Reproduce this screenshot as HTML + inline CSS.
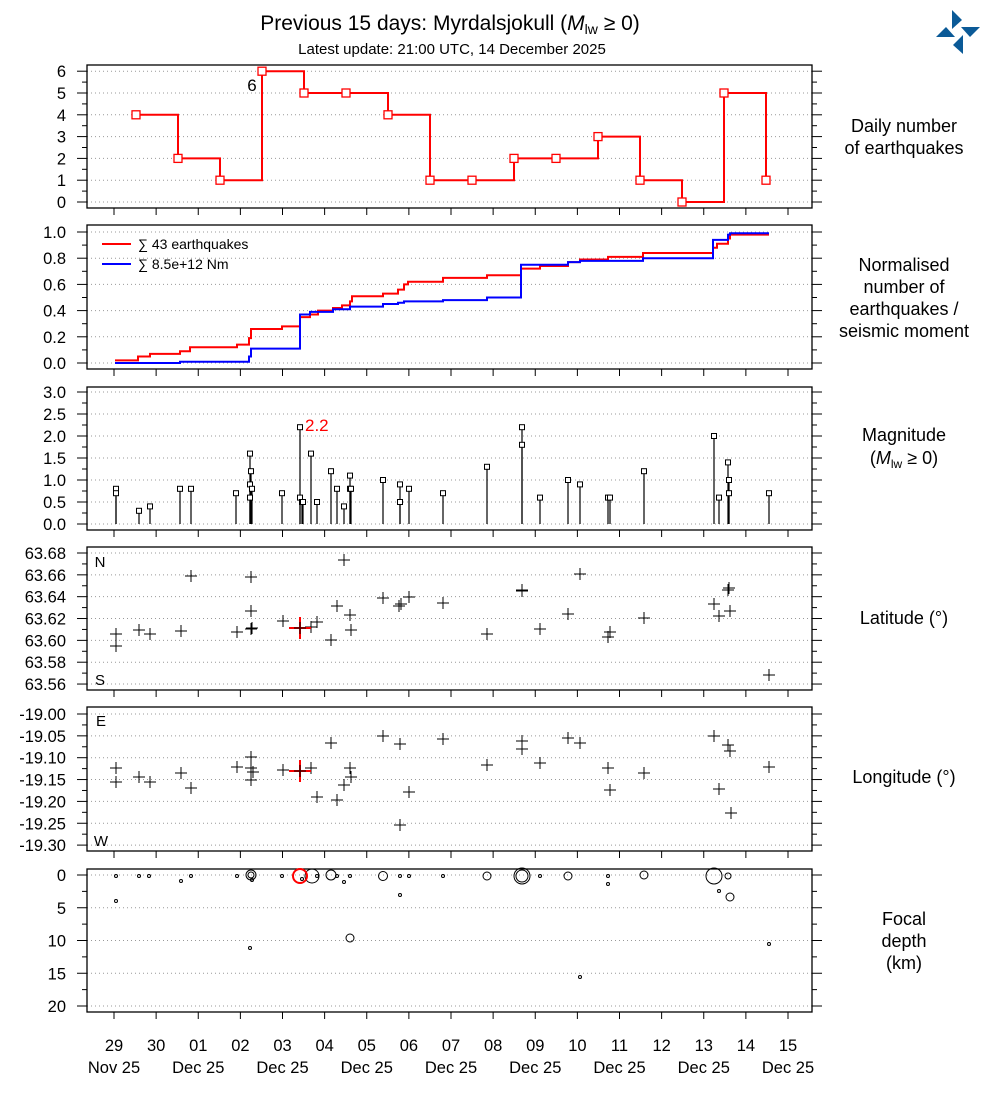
<!DOCTYPE html>
<html><head><meta charset="utf-8"><style>
body{margin:0;background:#fff;width:990px;height:1100px;overflow:hidden}
svg{display:block;font-family:"Liberation Sans",sans-serif}
</style></head><body>
<svg id="s" width="990" height="1100" xmlns="http://www.w3.org/2000/svg"></svg>
<script>
const S=document.getElementById('s');let h='';
const L=87,R=812;
function ln(x1,y1,x2,y2,st){h+=`<line x1="${x1}" y1="${y1}" x2="${x2}" y2="${y2}" ${st||'stroke="#000" stroke-width="1"'}/>`}
function tx(x,y,t,sz,anc,col){h+=`<text x="${x}" y="${y}" font-size="${sz||14}" text-anchor="${anc||'middle'}" fill="${col||'#000'}">${t}</text>`}
const days=[];for(let i=0;i<17;i++)days.push(114+42.125*i);
function panel(top,bot,vals,ymap,labels,minor){
  vals.forEach((v,i)=>{const y=ymap(v);ln(L,y,R,y,'stroke="#999" stroke-width="1" stroke-dasharray="1,3"');ln(L-10,y,L,y);ln(R,y,R+10,y);tx(L-21,y+6,labels[i],16.5,'end');});
  minor.forEach(v=>{const y=ymap(v);ln(L-5,y,L,y);ln(R,y,R+5,y)});
  days.forEach(x=>ln(x,bot,x,bot+7));
  h+=`<rect x="${L}" y="${top}" width="${R-L}" height="${bot-top}" fill="none" stroke="#000" stroke-width="1.3"/>`;
}
// title
h+=`<text x="450" y="30" font-size="21" text-anchor="middle">Previous 15 days: Myrdalsjokull (<tspan font-style="italic">M</tspan><tspan font-size="14" dy="4">lw</tspan><tspan dy="-4"> ≥ 0)</tspan></text>`;
tx(452,54,'Latest update: 21:00 UTC, 14 December 2025',15);
h+=`<g fill="#0b5a97"><polygon points="952,10 962,20 952,29"/><polygon points="936,37 946,27 955,37"/><polygon points="961,27 980,27 970,37"/><polygon points="963,35 963,54 953,45"/></g>`;
const RS=18,RX=904;
// Panel 1
{const m=v=>202-21.8*v;
panel(65,208,[0,1,2,3,4,5,6],m,['0','1','2','3','4','5','6'],[0.5,1.5,2.5,3.5,4.5,5.5]);
const p=[[136,4],[178,2],[220,1],[262,6],[304,5],[346,5],[388,4],[430,1],[472,1],[514,2],[556,2],[598,3],[640,1],[682,0],[724,5],[766,1]];
let d=`M${p[0][0]},${m(p[0][1])}`;for(let i=1;i<p.length;i++){d+=`H${p[i][0]}V${m(p[i][1])}`}
h+=`<path d="${d}" fill="none" stroke="#f00" stroke-width="2"/>`;
p.forEach(q=>h+=`<rect x="${q[0]-4}" y="${m(q[1])-4}" width="8" height="8" fill="#fff" stroke="#f00" stroke-width="1.3"/>`);
tx(252,91,'6',17);
tx(RX,132,'Daily number',RS);tx(RX,154,'of earthquakes',RS);}
// Panel 2
{const m=v=>363-131*v;
panel(225,369,[0,0.2,0.4,0.6,0.8,1.0],m,['0.0','0.2','0.4','0.6','0.8','1.0'],[0.1,0.3,0.5,0.7,0.9]);
function st(arr,col){let d='';arr.forEach((a,i)=>{d+=(i==0?`M${a[0]},${m(a[2])}`:`V${m(a[2])}`)+`H${a[1]}`});h+=`<path d="${d}" fill="none" stroke="${col}" stroke-width="2"/>`}
st([[115,138,.02],[138,150,.05],[150,180,.07],[180,190,.09],[190,237,.12],[237,249,.14],[249,251,.19],[251,282,.26],[282,300,.28],[300,300,.30],[300,310,.35],[310,318,.37],[318,333,.40],[333,342,.42],[342,350,.44],[350,352,.47],[352,383,.51],[383,398,.53],[398,404,.56],[404,408,.60],[408,443,.62],[443,487,.65],[487,521,.67],[521,540,.72],[540,568,.74],[568,580,.77],[580,608,.79],[608,643,.81],[643,713,.84],[713,717,.88],[717,728,.91],[728,730,.95],[730,769,.98]],'#f00');
st([[115,180,0],[180,249,.01],[249,251,.05],[251,300,.11],[300,310,.37],[310,333,.39],[333,350,.41],[350,383,.43],[383,398,.45],[398,404,.46],[404,443,.47],[443,487,.48],[487,521,.50],[521,568,.75],[568,580,.77],[580,643,.78],[643,713,.80],[713,728,.94],[728,730,.98],[730,769,.99]],'#00f');
ln(102,244,131,244,'stroke="#f00" stroke-width="2"');ln(102,264,131,264,'stroke="#00f" stroke-width="2"');
tx(138,249,'∑ 43 earthquakes',14,'start');tx(138,269,'∑ 8.5e+12 Nm',14,'start');
tx(RX,271,'Normalised',RS);tx(RX,293,'number of',RS);tx(RX,315,'earthquakes /',RS);tx(RX,337,'seismic moment',RS);}
// Panel 3
{const m=v=>524-44*v;
panel(387,530,[0,0.5,1,1.5,2,2.5,3],m,['0.0','0.5','1.0','1.5','2.0','2.5','3.0'],[0.25,0.75,1.25,1.75,2.25,2.75]);
const E=[[116,.8],[116,.7],[139,.3],[150,.4],[180,.8],[191,.8],[236,.7],[250,1.6],[251,1.2],[250,.9],[250,.6],[252,.8],[282,.7],[300,2.2],[300,.6],[302,.5],[303,.5],[311,1.6],[317,.5],[331,1.2],[337,.8],[344,.4],[350,1.1],[350,.8],[351,.8],[383,1.0],[400,.9],[400,.5],[409,.8],[443,.7],[487,1.3],[522,2.2],[522,1.8],[540,.6],[568,1.0],[580,.9],[608,.6],[610,.6],[644,1.2],[714,2.0],[719,.6],[728,1.4],[729,1.0],[729,.7],[769,.7]];
E.forEach(e=>{ln(e[0],524,e[0],m(e[1]),'stroke="#000" stroke-width="1.2"')});
E.forEach(e=>h+=`<rect x="${e[0]-2.5}" y="${m(e[1])-2.5}" width="5" height="5" fill="#fff" stroke="#000" stroke-width="1"/>`);
tx(305,431,'2.2',17,'start','#f00');
tx(RX,441,'Magnitude',RS);h+=`<text x="${RX}" y="464" font-size="${RS}" text-anchor="middle">(<tspan font-style="italic">M</tspan><tspan font-size="12" dy="4">lw</tspan><tspan dy="-4"> ≥ 0)</tspan></text>`;}
function cross(x,y,s,col,w){ln(x-s,y,x+s,y,`stroke="${col}" stroke-width="${w}"`);ln(x,y-s,x,y+s,`stroke="${col}" stroke-width="${w}"`)}
// Panel 4
{const m=v=>553+(63.68-v)*1092;
const vs=[63.56,63.58,63.60,63.62,63.64,63.66,63.68];
panel(547,690,vs,m,vs.map(v=>v.toFixed(2)),[63.57,63.59,63.61,63.63,63.65,63.67]);
[[116,634],[116,646],[139,630],[150,634],[181,631],[191,576],[237,632],[251,577],[251,611],[251,629],[252,628],[283,621],[311,627],[317,622],[331,640],[337,606],[344,560],[350,615],[351,630],[383,598],[399,606],[401,604],[409,597],[443,603],[487,634],[522,590],[522,591],[540,629],[568,614],[580,574],[608,637],[610,632],[644,618],[714,604],[719,616],[728,590],[729,588],[730,611],[769,675]].forEach(c=>cross(c[0],c[1],6,'#000',1));
cross(300,628,11,'#f00',2);cross(300,628,6,'#000',1);
tx(100,567,'N',15);tx(100,685,'S',15);tx(RX,624,'Latitude (°)',RS);}
// Panel 5
{const m=v=>714+(-19.0-v)*437;
const vs=[-19.30,-19.25,-19.20,-19.15,-19.10,-19.05,-19.00];
panel(707,851,vs,m,vs.map(v=>v.toFixed(2)),[-19.275,-19.225,-19.175,-19.125,-19.075,-19.025]);
[[116,768],[116,782],[139,777],[150,782],[181,773],[191,788],[237,767],[251,757],[251,768],[251,780],[253,772],[283,770],[311,768],[317,797],[331,743],[337,800],[344,785],[350,768],[351,777],[383,736],[400,744],[400,825],[409,792],[443,739],[487,765],[522,741],[522,749],[540,763],[568,738],[580,743],[608,768],[610,790],[644,773],[714,736],[719,789],[728,745],[730,751],[731,813],[769,767]].forEach(c=>cross(c[0],c[1],6,'#000',1));
cross(300,771,11,'#f00',2);cross(300,771,6,'#000',1);
tx(101,726,'E',15);tx(101,846,'W',15);tx(RX,783,'Longitude (°)',RS);}
// Panel 6
{const m=v=>875+6.55*v;
panel(869,1012,[0,5,10,15,20],m,['0','5','10','15','20'],[2.5,7.5,12.5,17.5]);
[[116,876,1.5],[116,901,1.5],[139,876,1.5],[149,876,1.5],[181,881,1.5],[191,876,1.5],[237,876,1.5],[251,875,5],[251,875,3],[252,880,1.5],[250,948,1.5],[282,876,1.5],[302,879,1.5],[312,876,7],[317,876,1.5],[331,875,5],[337,876,1.5],[344,882,1.5],[350,876,1.5],[350,938,4],[383,876,4.5],[400,876,1.5],[400,895,1.5],[409,876,1.5],[443,876,1.5],[487,876,4],[522,876,8],[522,876,6],[540,876,1.5],[568,876,4],[580,977,1.5],[608,876,1.5],[608,884,1.5],[644,875,4],[714,876,8],[719,891,1.5],[728,876,3],[730,897,4],[769,944,1.5]].forEach(c=>h+=`<circle cx="${c[0]}" cy="${c[1]}" r="${c[2]}" fill="none" stroke="#000" stroke-width="1"/>`);
h+=`<circle cx="300" cy="876" r="7" fill="none" stroke="#f00" stroke-width="2"/>`;
tx(RX,925,'Focal',RS);tx(RX,947,'depth',RS);tx(RX,969,'(km)',RS);}
// x labels
const dl=['29','30','01','02','03','04','05','06','07','08','09','10','11','12','13','14','15'];
days.forEach((x,i)=>{tx(x,1051,dl[i],16.5);if(i%2==0)tx(x,1073,i==0?'Nov 25':'Dec 25',16.5)});
S.innerHTML=h;
</script>
</body></html>
